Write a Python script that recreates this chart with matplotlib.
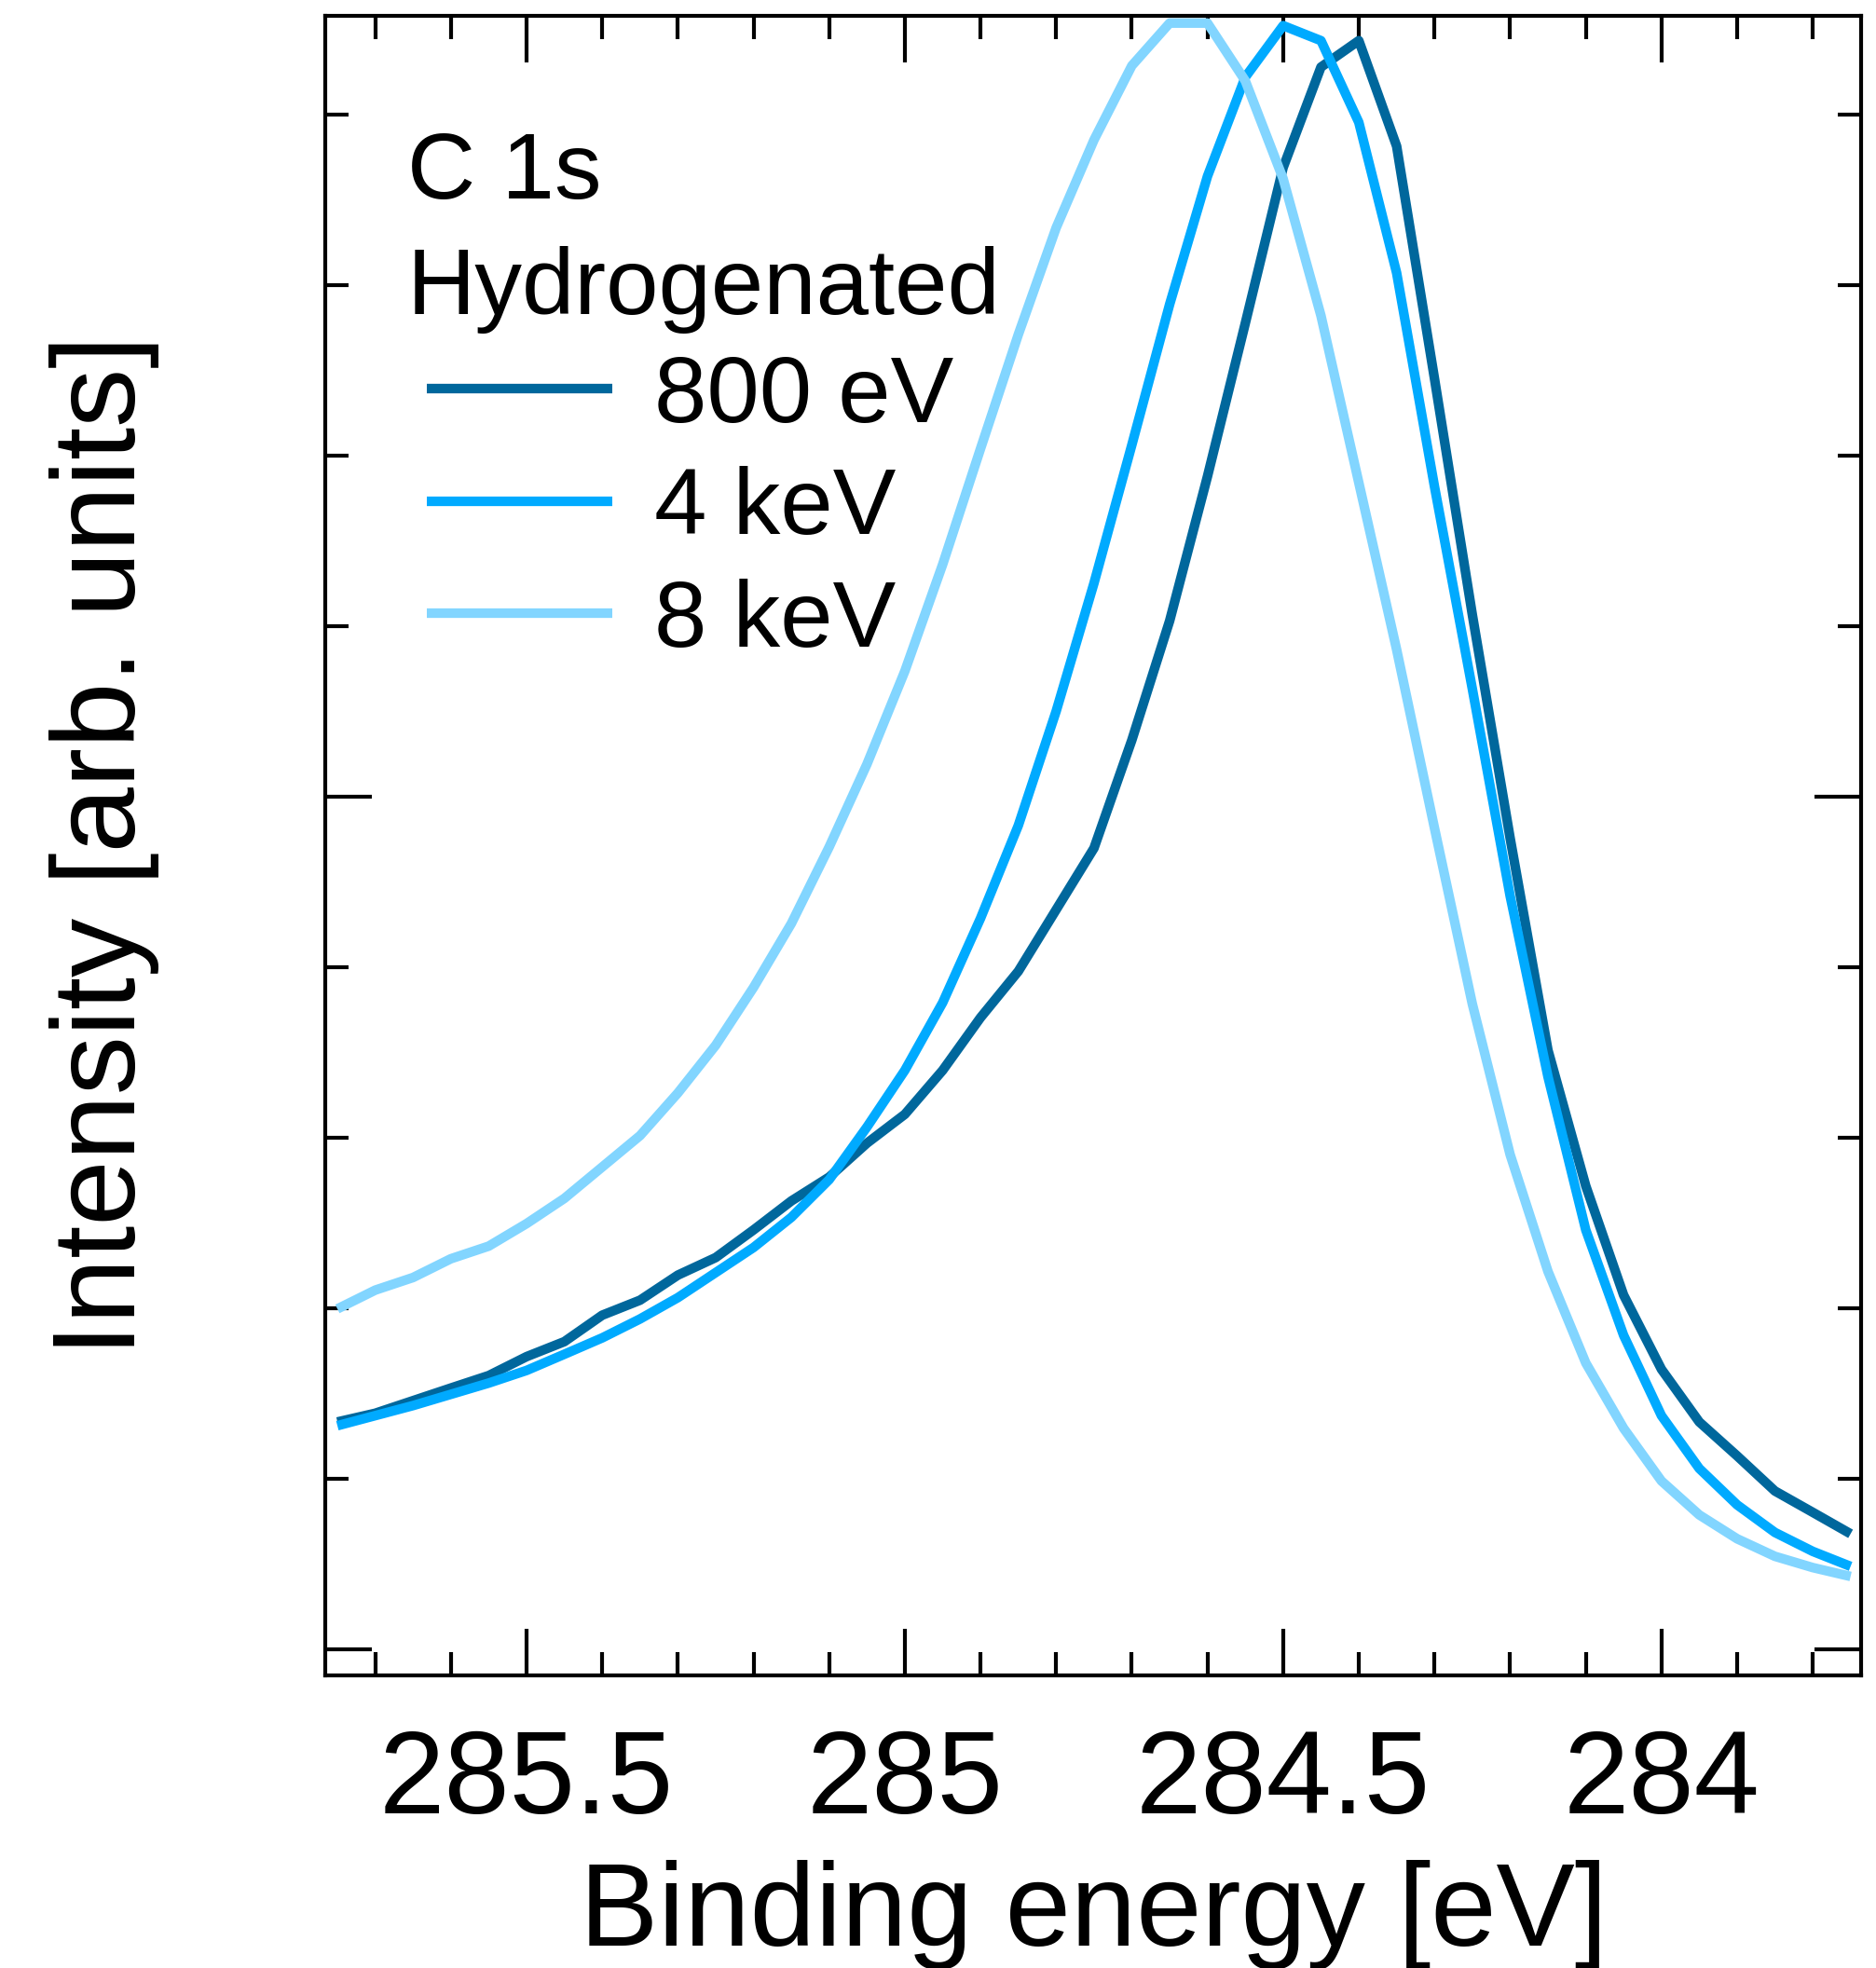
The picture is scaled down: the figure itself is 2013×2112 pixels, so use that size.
import matplotlib
matplotlib.use('Agg')
import matplotlib.pyplot as plt
import matplotlib.ticker as ticker

plt.rcParams['font.family'] = ['Liberation Sans', 'DejaVu Sans']

# binding energy grid (eV) and C 1s spectra (arb. units)
binding_energy = [285.75, 285.70, 285.65, 285.60, 285.55, 285.50, 285.45, 285.40,
                  285.35, 285.30, 285.25, 285.20, 285.15, 285.10, 285.05, 285.00,
                  284.95, 284.90, 284.85, 284.80, 284.75, 284.70, 284.65, 284.60,
                  284.55, 284.50, 284.45, 284.40, 284.35, 284.30, 284.25, 284.20,
                  284.15, 284.10, 284.05, 284.00, 283.95, 283.90, 283.85, 283.80,
                  283.75]

i_800ev = [1.333, 1.384, 1.458, 1.532, 1.605, 1.716, 1.804, 1.959, 2.047, 2.194,
           2.297, 2.459, 2.629, 2.769, 2.968, 3.137, 3.395, 3.704, 3.976, 4.337,
           4.698, 5.331, 6.031, 6.878, 7.776, 8.689, 9.278, 9.433, 8.814, 7.452,
           6.068, 4.757, 3.513, 2.717, 2.077, 1.642, 1.333, 1.134, 0.928, 0.803,
           0.677]

i_4kev = [1.311, 1.370, 1.429, 1.495, 1.561, 1.635, 1.730, 1.826, 1.937, 2.062,
          2.209, 2.356, 2.533, 2.754, 3.063, 3.395, 3.792, 4.286, 4.831, 5.501,
          6.252, 7.062, 7.887, 8.638, 9.219, 9.521, 9.433, 8.954, 8.071, 6.819,
          5.633, 4.418, 3.358, 2.459, 1.841, 1.370, 1.060, 0.847, 0.685, 0.574,
          0.486]

i_8kev = [1.996, 2.106, 2.180, 2.290, 2.364, 2.496, 2.644, 2.828, 3.012, 3.262,
          3.542, 3.881, 4.256, 4.705, 5.191, 5.736, 6.362, 7.040, 7.710, 8.336,
          8.851, 9.286, 9.536, 9.536, 9.197, 8.623, 7.820, 6.841, 5.862, 4.816,
          3.785, 2.901, 2.216, 1.679, 1.296, 0.987, 0.788, 0.648, 0.545, 0.479,
          0.427]

series = [i_800ev, i_4kev, i_8kev]
labels = ['800 eV', '4 keV', '8 keV']
colors = ['#00679c', '#00aaff', '#82d5ff']

fig = plt.figure(figsize=(20.13, 21.12), dpi=100)
ax = fig.add_axes([0.1734, 0.1487, 0.8187, 0.8433])

for y, lab, c in zip(series, labels, colors):
    ax.plot(binding_energy, y, color=c, linewidth=7.4, label=lab,
            solid_capstyle='butt')

ax.set_xlim(285.766, 283.736)
ax.set_ylim(-0.153, 9.579)

ax.xaxis.set_major_locator(ticker.MultipleLocator(0.5))
ax.xaxis.set_minor_locator(ticker.MultipleLocator(0.1))
ax.xaxis.set_major_formatter(ticker.FormatStrFormatter('%g'))
ax.yaxis.set_major_locator(ticker.MultipleLocator(5))
ax.yaxis.set_minor_locator(ticker.MultipleLocator(1))

ax.tick_params(which='both', direction='in', top=True, right=True,
               width=3.0, labelleft=False)
ax.tick_params(which='major', length=36, labelsize=91, pad=40)
ax.tick_params(which='minor', length=18)
for s in ax.spines.values():
    s.set_linewidth(3.0)

ax.set_xlabel('Binding energy [eV]', fontsize=91)
ax.set_ylabel('Intensity [arb. units]', fontsize=91)
ax.xaxis.set_label_coords(0.5, -0.111)
ax.yaxis.set_label_coords(-0.108, 0.5)

ax.text(0.0534, 0.9309, 'C 1s\nHydrogenated', transform=ax.transAxes,
        fontsize=73, va='top', ha='left', linespacing=1.41)

ax.legend(loc='upper left', bbox_to_anchor=(0.0661, 0.7962), frameon=False,
          fontsize=73, handlelength=1.96, handletextpad=0.45,
          labelspacing=0.26, borderpad=0, borderaxespad=0)

fig.savefig('out.png', dpi=100)
